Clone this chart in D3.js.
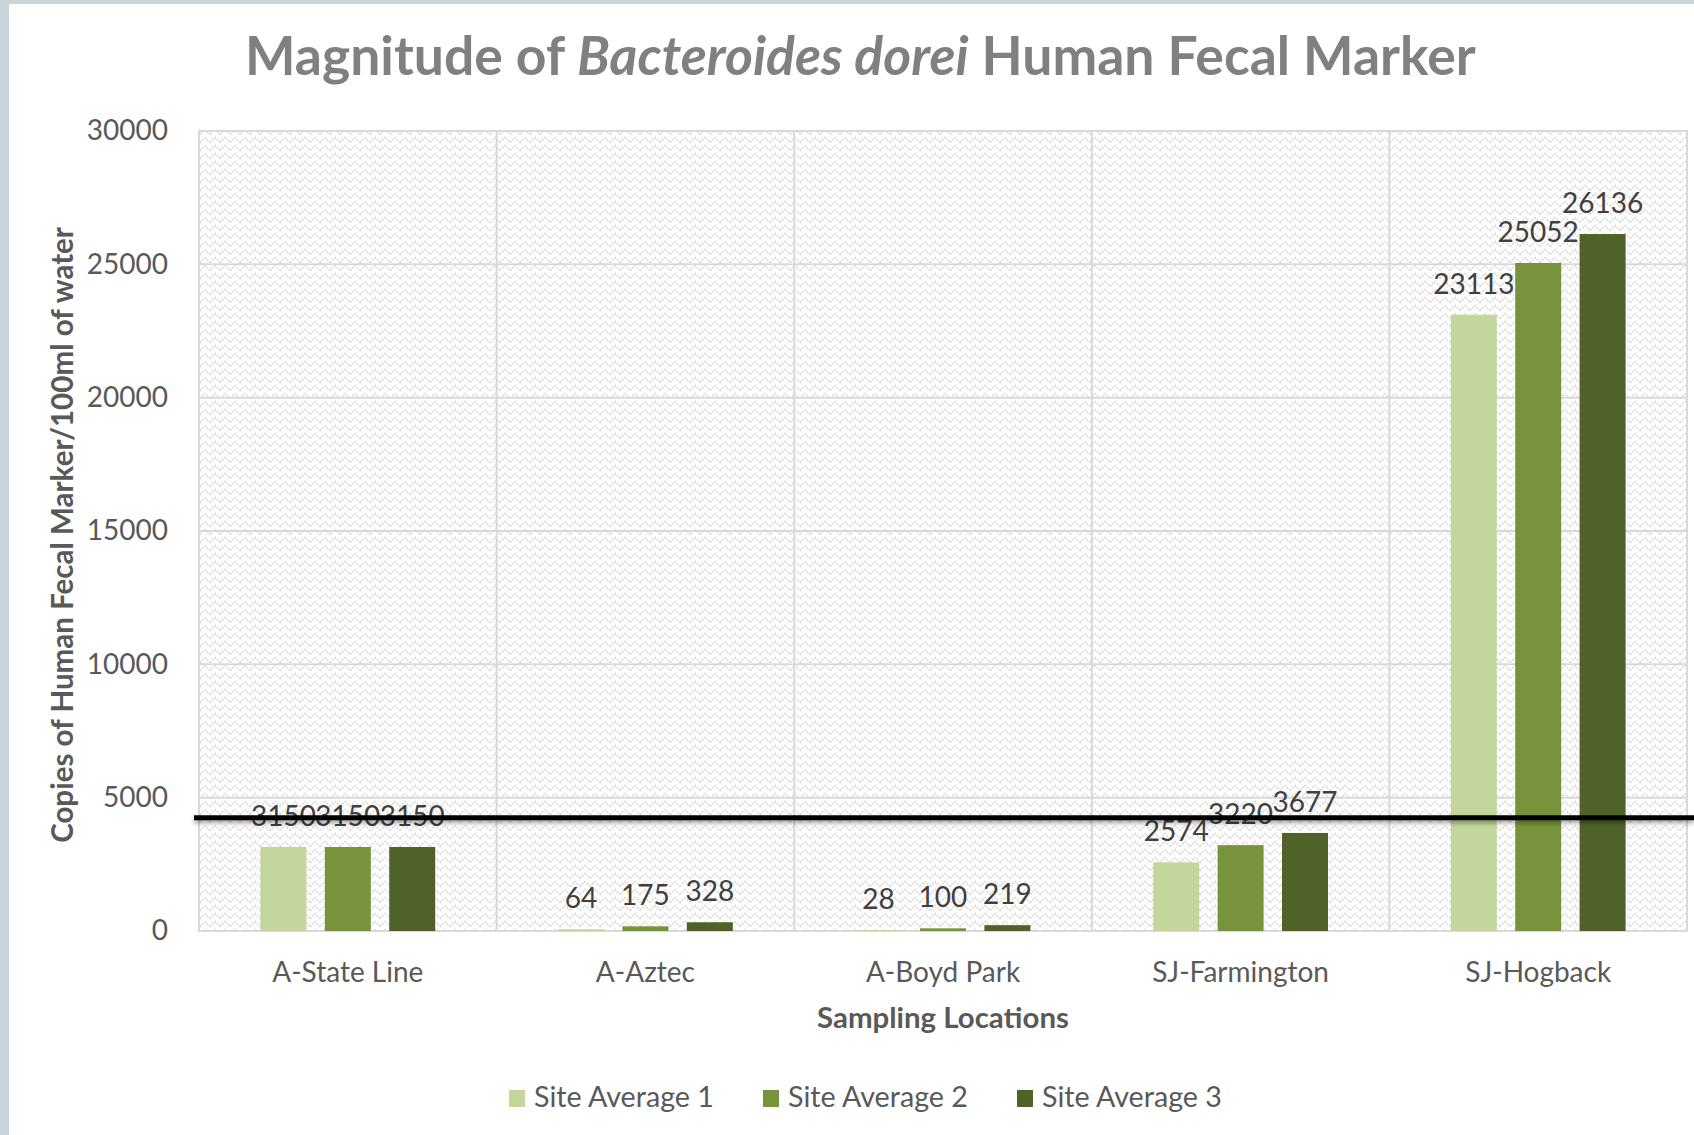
<!DOCTYPE html>
<html>
<head>
<meta charset="utf-8">
<script src="https://cdn.jsdelivr.net/npm/d3@7"></script>
<style>
  html, body { margin: 0; padding: 0; background: #ffffff; }
  svg { display: block; }
  text { font-family: Lato, "Noto Sans", sans-serif; }
</style>
</head>
<body>
<svg id="chart" width="1694" height="1135"></svg>
<script>
// Sampling locations along the river
const categories = ["A-State Line", "A-Aztec", "A-Boyd Park", "SJ-Farmington", "SJ-Hogback"];
const seriesNames = ["Site Average 1", "Site Average 2", "Site Average 3"];
// Copies of the human fecal marker per 100 ml, one array per site average
const siteAverage1 = [3150, 64, 28, 2574, 23113];
const siteAverage2 = [3150, 175, 100, 3220, 25052];
const siteAverage3 = [3150, 328, 219, 3677, 26136];
const yTicks = [0, 5000, 10000, 15000, 20000, 25000, 30000];
// Reference level drawn across the chart
const thresholdValue = 4250;

const seriesColors = ["#c3d69b", "#77933c", "#4f6228"];

const svg = d3.select("#chart");
const W = 1694, H = 1135;
const plot = { left: 199, right: 1687, top: 131, bottom: 931 };

// Scale a text element's font size so its rendered width equals a target
function fitWidth(sel, target) {
  const node = sel.node();
  const fs = parseFloat(sel.attr("font-size"));
  const w = node.getComputedTextLength();
  if (w > 0) sel.attr("font-size", fs * target / w);
  return parseFloat(sel.attr("font-size"));
}

// Frame of the sheet
svg.append("rect").attr("x", 0).attr("y", 0).attr("width", W).attr("height", H).attr("fill", "#ffffff");
svg.append("rect").attr("x", 0).attr("y", 0).attr("width", 9).attr("height", H).attr("fill", "#c9d4db");
svg.append("rect").attr("x", 0).attr("y", 0).attr("width", W).attr("height", 4).attr("fill", "#c9d4db");

const defs = svg.append("defs");
// Zig-zag texture for the plot area
const pat = defs.append("pattern")
  .attr("id", "zigzag").attr("patternUnits", "userSpaceOnUse")
  .attr("width", 10).attr("height", 8);
pat.append("rect").attr("width", 10).attr("height", 8).attr("fill", "#ffffff");
pat.append("path")
  .attr("d", "M0,6.5 L5,1.5 L10,6.5")
  .attr("fill", "none").attr("stroke", "#d6d6d6").attr("stroke-width", 1.4)
  .attr("stroke-dasharray", "2,1.2");

const shadow = defs.append("filter").attr("id", "lineShadow")
  .attr("filterUnits", "userSpaceOnUse")
  .attr("x", 0).attr("y", 780).attr("width", W).attr("height", 80);
shadow.append("feDropShadow").attr("dx", 0).attr("dy", 3).attr("stdDeviation", 2)
  .attr("flood-color", "#000").attr("flood-opacity", 0.35);

// Scales
const y = d3.scaleLinear().domain([0, 30000]).range([plot.bottom, plot.top]);
const x0 = d3.scaleBand().domain(categories).range([plot.left, plot.right]).padding(0);
const groupFrac = 0.5874;
const bw = x0.bandwidth();
const x1 = d3.scaleBand().domain(seriesNames)
  .range([bw * (1 - groupFrac) / 2, bw * (1 + groupFrac) / 2])
  .paddingInner(0.2857).paddingOuter(0);

// Plot area background
svg.append("rect")
  .attr("x", plot.left).attr("y", plot.top)
  .attr("width", plot.right - plot.left).attr("height", plot.bottom - plot.top)
  .attr("fill", "url(#zigzag)");

// Gridlines
const grid = svg.append("g").attr("stroke", "#d9d9d9").attr("stroke-width", 2);
grid.selectAll("line.h").data(yTicks).join("line")
  .attr("x1", plot.left).attr("x2", plot.right)
  .attr("y1", d => y(d)).attr("y2", d => y(d));
grid.selectAll("line.v").data(categories.slice(1)).join("line")
  .attr("x1", d => x0(d)).attr("x2", d => x0(d))
  .attr("y1", plot.top).attr("y2", plot.bottom);
svg.append("rect")
  .attr("x", plot.left).attr("y", plot.top)
  .attr("width", plot.right - plot.left).attr("height", plot.bottom - plot.top)
  .attr("fill", "none").attr("stroke", "#d9d9d9").attr("stroke-width", 2);

// Bars
const seriesData = [siteAverage1, siteAverage2, siteAverage3];
const rows = categories.map((c, i) => ({
  category: c,
  values: seriesNames.map((s, k) => ({ series: s, k: k, value: seriesData[k][i] }))
}));

const groups = svg.append("g").selectAll("g").data(rows).join("g")
  .attr("transform", d => `translate(${x0(d.category)},0)`);

groups.selectAll("rect").data(d => d.values).join("rect")
  .attr("x", d => x1(d.series))
  .attr("width", x1.bandwidth())
  .attr("y", d => y(d.value))
  .attr("height", d => y(0) - y(d.value))
  .attr("fill", d => seriesColors[d.k]);

// Value labels above each bar
groups.selectAll("text").data(d => d.values).join("text")
  .attr("x", d => x1(d.series) + x1.bandwidth() / 2)
  .attr("y", d => y(d.value) - 21)
  .attr("text-anchor", "middle")
  .attr("font-size", 28)
  .attr("fill", "#404040")
  .text(d => d.value);

// Y axis
const yAxis = svg.append("g")
  .attr("transform", `translate(${plot.left},0)`)
  .call(d3.axisLeft(y).tickValues(yTicks).tickSize(0).tickPadding(31).tickFormat(d3.format("d")));
yAxis.select(".domain").remove();
yAxis.selectAll("text")
  .attr("font-size", 28).attr("fill", "#595959")
  .style("font-family", "Lato, 'Noto Sans', sans-serif");

// X axis
const xAxis = svg.append("g")
  .attr("transform", `translate(0,${plot.bottom})`)
  .call(d3.axisBottom(x0).tickSize(0).tickPadding(31));
xAxis.select(".domain").remove();
xAxis.selectAll("text")
  .attr("font-size", 28).attr("fill", "#595959")
  .style("font-family", "Lato, 'Noto Sans', sans-serif");

// Axis titles
const xTitle = svg.append("text")
  .attr("x", (plot.left + plot.right) / 2).attr("y", 1028)
  .attr("text-anchor", "middle")
  .attr("font-size", 27).attr("font-weight", "bold").attr("fill", "#595959")
  .text("Sampling Locations");
fitWidth(xTitle, 252);

const yTitle = svg.append("text")
  .attr("transform", "translate(73,535) rotate(-90)")
  .attr("text-anchor", "middle")
  .attr("font-size", 30).attr("font-weight", "bold").attr("fill", "#595959")
  .text("Copies of Human Fecal Marker/100ml of water");
fitWidth(yTitle, 616);

// Chart title with italic species name
const title = svg.append("text")
  .attr("x", 245).attr("y", 75)
  .attr("font-size", 50).attr("font-weight", "bold").attr("fill", "#808080");
title.append("tspan").text("Magnitude of ");
title.append("tspan").attr("font-style", "italic").text("Bacteroides dorei");
title.append("tspan").text(" Human Fecal Marker");
fitWidth(title, 1231);

// Threshold line with a soft shadow
svg.append("line")
  .attr("x1", 194).attr("x2", W)
  .attr("y1", y(thresholdValue)).attr("y2", y(thresholdValue))
  .attr("stroke", "#000000").attr("stroke-width", 5)
  .attr("filter", "url(#lineShadow)");

// Legend
const legend = svg.append("g").attr("transform", "translate(509,1090)");
const items = legend.selectAll("g").data(seriesNames).join("g")
  .attr("transform", (d, i) => `translate(${i * 254},0)`);
items.append("rect").attr("width", 16).attr("height", 17)
  .attr("fill", (d, i) => seriesColors[i]);
const legendText = items.append("text")
  .attr("x", 25).attr("y", 17)
  .attr("font-size", 27).attr("fill", "#595959")
  .text(d => d);
const lfs = fitWidth(d3.select(legendText.nodes()[0]), 180);
legendText.attr("font-size", lfs);
</script>
</body>
</html>
